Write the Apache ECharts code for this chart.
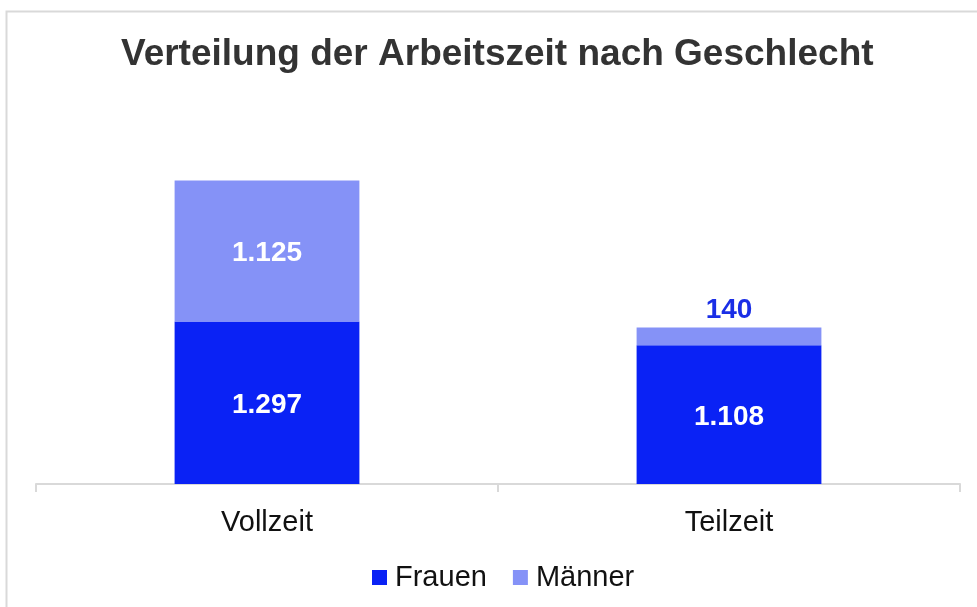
<!DOCTYPE html>
<html>
<head>
<meta charset="utf-8">
<script src="https://cdn.jsdelivr.net/npm/echarts@6/dist/echarts.min.js"></script>
<style>
  html, body { margin: 0; padding: 0; background: #ffffff; }
  #chart { width: 977px; height: 607px; }
</style>
</head>
<body>
<div id="chart"></div>
<script>
// Stacked headcounts by working-time model
const categories = ['Vollzeit', 'Teilzeit'];
const frauen = [1297, 1108];
const maenner = [1125, 140];

const FONT = '"Liberation Sans", Arial, Helvetica, sans-serif';
const fmt = v => v.toLocaleString('de-DE');

const chart = echarts.init(document.getElementById('chart'), null, { renderer: 'canvas' });
chart.setOption({
  backgroundColor: '#ffffff',
  animation: false,
  graphic: [{
    type: 'rect',
    shape: { x: 6.5, y: 11.5, width: 1000, height: 700 },
    style: { fill: 'none', stroke: '#d9d9d9', lineWidth: 2 },
    silent: true
  }],
  title: {
    text: 'Verteilung der Arbeitszeit nach Geschlecht',
    left: 121,
    top: 36,
    padding: 0,
    textStyle: { fontFamily: FONT, fontSize: 37, fontWeight: 'bold', color: '#333333' }
  },
  legend: {
    bottom: 15,
    left: 372,
    padding: 0,
    itemWidth: 15,
    itemHeight: 15,
    itemGap: 26,
    icon: 'rect',
    textStyle: { fontFamily: FONT, fontSize: 29, color: '#111111', padding: [0, 0, 0, 3] },
    data: ['Frauen', 'Männer']
  },
  grid: { left: 36, right: 17, top: 108, bottom: 123, containLabel: false },
  xAxis: {
    type: 'category',
    data: categories,
    axisLine: { lineStyle: { color: '#d9d9d9', width: 2 } },
    axisTick: { show: true, length: 8, lineStyle: { color: '#d9d9d9', width: 2 } },
    axisLabel: { fontFamily: FONT, fontSize: 29, color: '#111111', margin: 24 }
  },
  yAxis: {
    type: 'value',
    min: 0,
    max: 3000,
    show: false,
    splitLine: { show: false }
  },
  series: [
    {
      name: 'Frauen',
      type: 'bar',
      stack: 'gesamt',
      barWidth: '40%',
      data: frauen,
      itemStyle: { color: '#0a22f5' },
      label: {
        show: true,
        position: 'inside',
        offset: [0, 3],
        formatter: p => fmt(p.value),
        fontFamily: FONT, fontSize: 28, fontWeight: 'bold', color: '#ffffff'
      }
    },
    {
      name: 'Männer',
      type: 'bar',
      stack: 'gesamt',
      barWidth: '40%',
      data: maenner.map((v, i) => i === 0
        ? { value: v, label: { position: 'inside', offset: [0, 2], color: '#ffffff' } }
        : { value: v, label: { position: 'top', distance: 3, color: '#1a2ee6' } }),
      itemStyle: { color: '#8592f7' },
      label: {
        show: true,
        formatter: p => fmt(p.value),
        fontFamily: FONT, fontSize: 28, fontWeight: 'bold'
      }
    }
  ]
});
</script>
</body>
</html>
